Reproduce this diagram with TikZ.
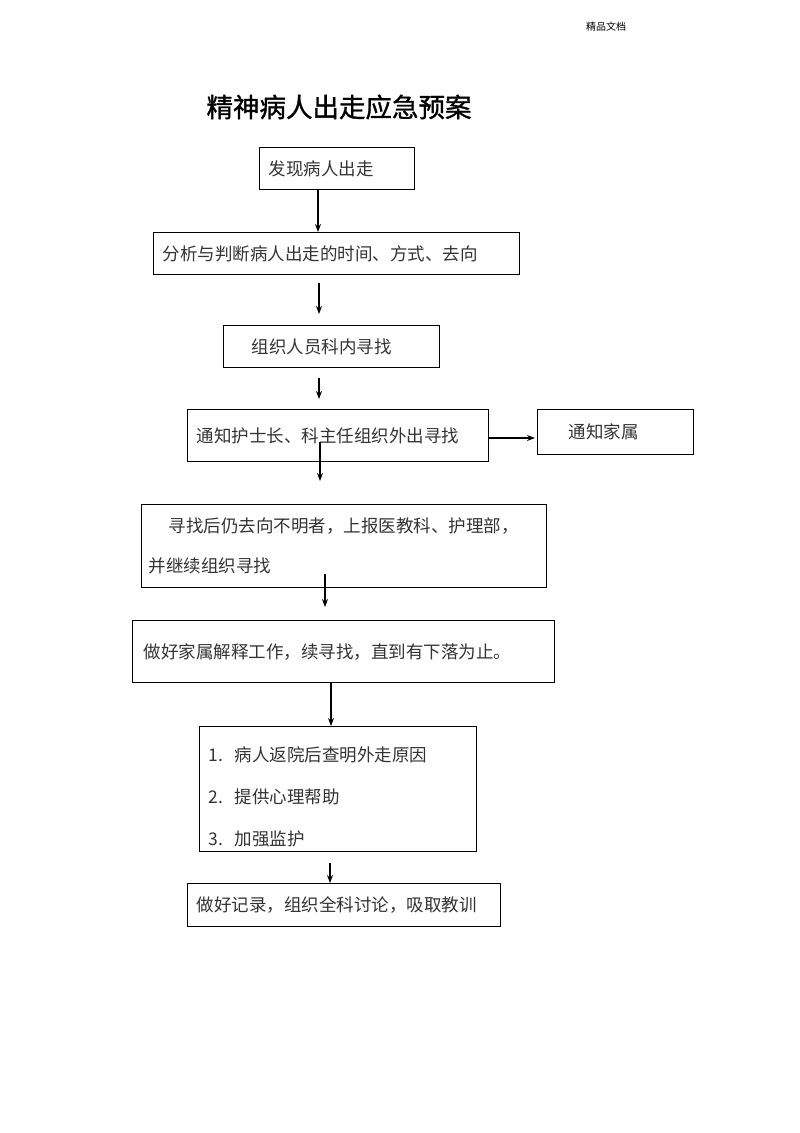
\documentclass[tikz,border=0pt]{standalone}
\usepackage{fontspec}
\setmainfont{Noto Sans CJK SC}
\newfontfamily\titlefont{Noto Sans CJK SC}[FakeBold=1.2]
\usetikzlibrary{arrows.meta}

\tikzset{
  box/.style={draw, line width=1.2pt, anchor=north west, align=left,
    inner xsep=9pt, inner ysep=0pt, text=black!80,
    font=\fontsize{17.5}{21}\selectfont},
  arr/.style={line width=1.2pt, -{Stealth[length=8pt,width=6pt]}}
}

\begin{document}
\begin{tikzpicture}[x=1pt,y=-1pt]
  \useasboundingbox (0,0) rectangle (800,1133);
  % heading
  \node[font=\fontsize{10}{12}\selectfont] (head) at (606,27) {精品文档};
  \node[anchor=west, font=\titlefont\fontsize{26.5}{30}\selectfont] (title) at (203,107) {精神病人出走应急预案};
  % boxes
  \node[box, minimum width=155pt, minimum height=42pt, text width=137pt] (find) at (259,147) {发现病人出走};
  \node[box, minimum width=366pt, minimum height=42pt, text width=348pt] (judge) at (153,232) {分析与判断病人出走的时间、方式、去向};
  \node[box, minimum width=216pt, minimum height=42pt, inner xsep=28pt, text width=160pt] (inner) at (223,325) {组织人员科内寻找};
  \node[box, minimum width=301pt, minimum height=52pt, text width=283pt] (head nurse) at (187,409) {通知护士长、科主任组织外出寻找};
  \node[box, minimum width=156pt, minimum height=45pt, inner xsep=31pt, text width=94pt] (family) at (537,409) {通知家属};
  \node[box, minimum width=405pt, minimum height=83pt, inner xsep=7pt, text width=391pt,
        font=\fontsize{17.5}{40}\selectfont] (report) at (141,504)
        {\hspace*{20pt}寻找后仍去向不明者，上报医教科、护理部，\\并继续组织寻找};
  \node[box, minimum width=422pt, minimum height=62pt, inner xsep=11pt, text width=400pt] (explain) at (132,620) {做好家属解释工作，续寻找，直到有下落为止。};
  \node[box, minimum width=277pt, minimum height=125pt, text width=259pt,
        font=\fontsize{17.5}{42}\selectfont] (back) at (199,726)
        {\rule{0pt}{31pt}1.\ \ 病人返院后查明外走原因\\2.\ \ 提供心理帮助\\3.\ \ 加强监护};
  \node[box, minimum width=313pt, minimum height=43pt, text width=295pt] (record) at (187,883) {做好记录，组织全科讨论，吸取教训};
  % free ends
  \coordinate (a1) at (318,0);
  \coordinate (a2 start) at (319,283);
  \coordinate (a2 end) at (319,314);
  \coordinate (a3 start) at (319,378);
  \coordinate (a3 end) at (319,399);
  \coordinate (a4 start) at (320,442);
  \coordinate (a4 end) at (320,481);
  \coordinate (a6 start) at (325,574);
  \coordinate (a6 end) at (325,607);
  \coordinate (a7) at (331,0);
  \coordinate (a8 start) at (330,863);
  % arrows
  \draw[arr] (find.south -| a1) -- (judge.north -| a1);
  \draw[arr] (a2 start) -- (a2 end);
  \draw[arr] (a3 start) -- (a3 end);
  \draw[arr] (a4 start) -- (a4 end);
  \draw[arr] (head nurse.east |- 0,438) -- ([xshift=-2pt]family.west |- 0,438);
  \draw[arr] (a6 start) -- (a6 end);
  \draw[arr] (explain.south -| a7) -- (back.north -| a7);
  \draw[arr] (a8 start) -- (record.north -| a8 start);
\end{tikzpicture}
\end{document}
